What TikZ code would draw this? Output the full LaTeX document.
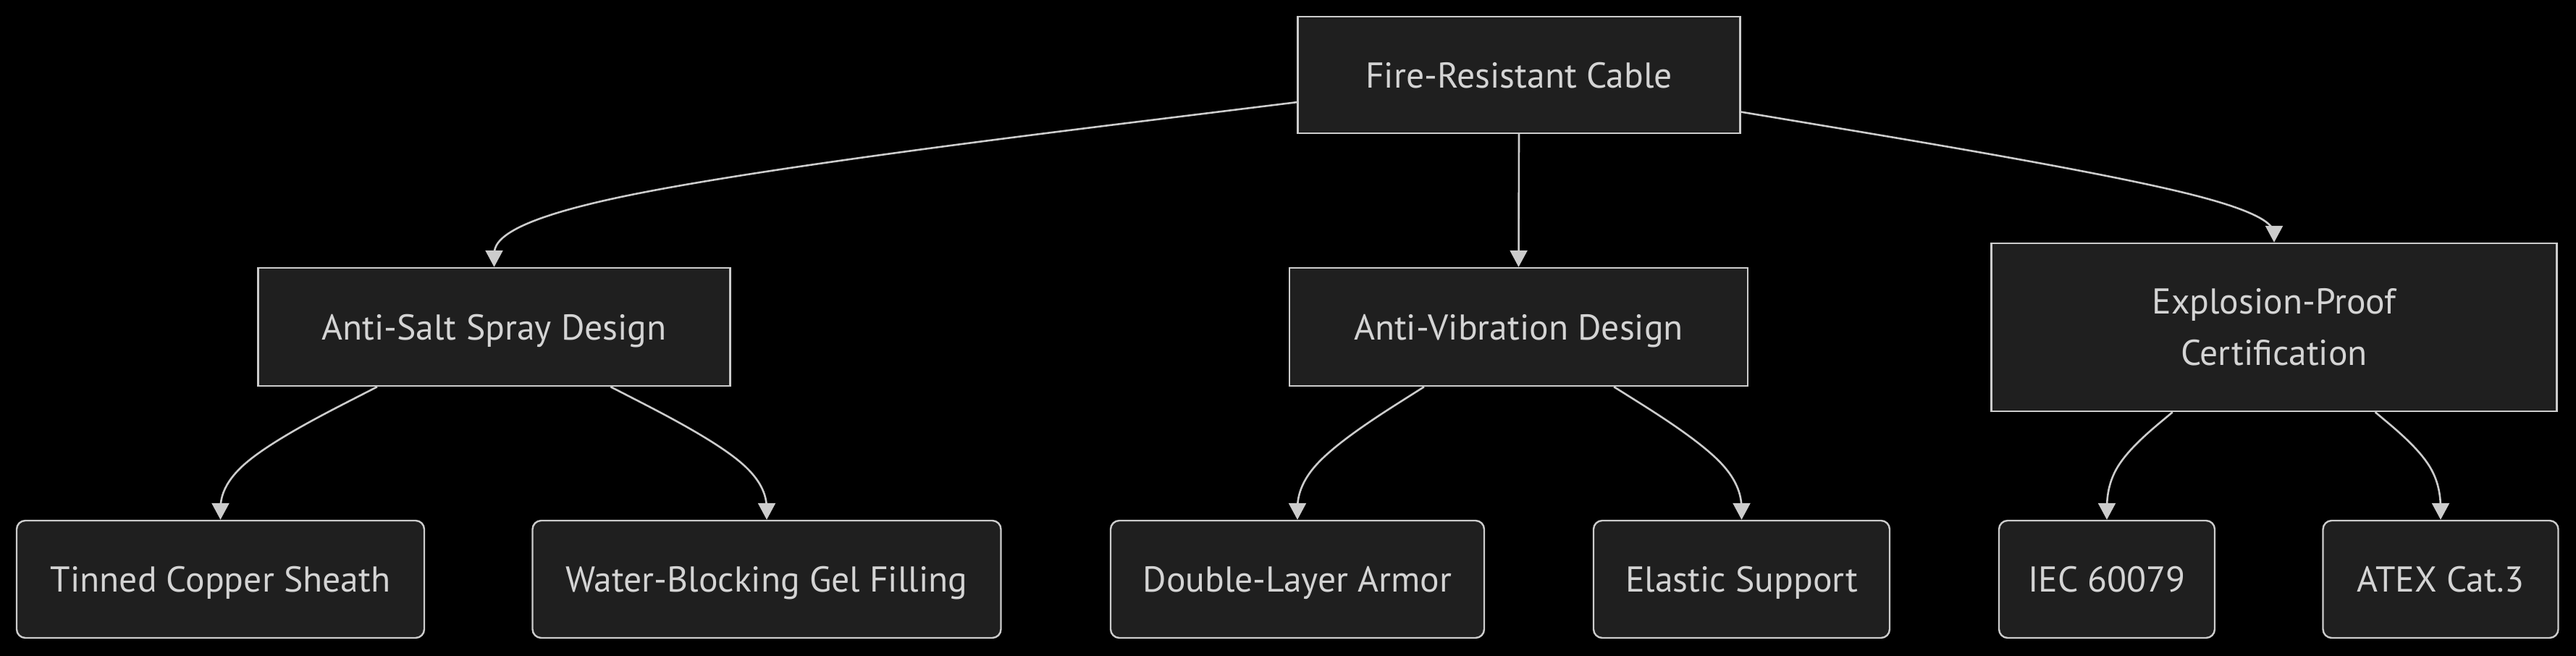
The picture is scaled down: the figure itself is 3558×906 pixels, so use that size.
\documentclass[tikz,border=0pt]{standalone}
\usepackage{fontspec}
\setmainfont{PT Sans}
\usetikzlibrary{arrows.meta,calc}
\definecolor{nodefill}{HTML}{1F1F1F}
\definecolor{strokec}{HTML}{CCCCCC}
\definecolor{textc}{HTML}{D4D4D4}
\newcommand{\basisedge}[3]{%
  \path (#1) -- (#2) coordinate[pos=0] (q0);
  \coordinate (q1) at (#2);
  \coordinate (q2) at (#3.north);
  \coordinate (qa) at ($(q0)!1/6!(q1)$);
  \coordinate (qc1) at ($(q0)!1/3!(q1)$);
  \coordinate (qc2) at ($(q0)!2/3!(q1)$);
  \coordinate (qd1) at ($(q1)!1/3!(q2)$);
  \coordinate (qd2) at ($(q1)!2/3!(q2)$);
  \coordinate (qb) at ($(qc2)!0.5!(qd1)$);
  \coordinate (qc) at ($(q1)!5/6!(q2)$);
  \draw[edge] (q0) -- (qa) .. controls (qc1) and (qc2) .. (qb) .. controls (qd1) and (qd2) .. (qc) -- (q2);
}
\begin{document}
\begin{tikzpicture}[x=0.25pt,y=-0.25pt,
  box/.style={draw=strokec, fill=nodefill, line width=0.6pt, inner sep=0pt,
    text=textc, font=\fontsize{12.4}{17.75}\selectfont, align=center},
  oneline/.style={text height=9pt, text depth=0pt},
  leaf/.style={box, oneline, rounded corners=3pt},
  sz/.style 2 args={minimum width=#1*0.25pt, minimum height=#2*0.25pt},
  edge/.style={draw=strokec, line width=0.65pt, -{Triangle[length=5.75pt,width=6pt]}}]
\fill[black] (0,0) rectangle (3558,906);
\useasboundingbox (0,0) rectangle (3558,906);

\node[box, oneline, sz={611}{161}] (root) at (2098,103.5) {Fire-Resistant Cable};
\node[box, oneline, sz={652}{163}] (salt) at (682.5,451.5) {Anti-Salt Spray Design};
\node[box, oneline, sz={633}{163}] (vib) at (2097.5,451.5) {Anti-Vibration Design};
\node[box, sz={781}{232}] (expl) at (3141,452) {Explosion-Proof\\Certification};

\node[leaf, sz={563}{162}] (tinned) at (304.5,800) {Tinned Copper Sheath};
\node[leaf, sz={647}{162}] (water) at (1059,800) {Water-Blocking Gel Filling};
\node[leaf, sz={516}{162}] (double) at (1792,800) {Double-Layer Armor};
\node[leaf, sz={409}{162}] (elastic) at (2405.5,800) {Elastic Support};
\node[leaf, sz={298}{162}] (iec) at (2910,800) {IEC 60079};
\node[leaf, sz={325}{162}] (atex) at (3371,800) {ATEX Cat.3};

\coordinate (m1) at (682.5,277.5);
\coordinate (m3) at (3141,277.5);
\coordinate (m4) at (304.5,645);
\coordinate (m5) at (1059,645);
\coordinate (m6) at (1792,645);
\coordinate (m7) at (2405.5,645);
\coordinate (m8) at (2910,645);
\coordinate (m9) at (3371,645);

\basisedge{root}{m1}{salt}
\draw[edge] (root.south) -- (vib.north);
\basisedge{root}{m3}{expl}
\basisedge{salt}{m4}{tinned}
\basisedge{salt}{m5}{water}
\basisedge{vib}{m6}{double}
\basisedge{vib}{m7}{elastic}
\basisedge{expl}{m8}{iec}
\basisedge{expl}{m9}{atex}
\end{tikzpicture}
\end{document}
